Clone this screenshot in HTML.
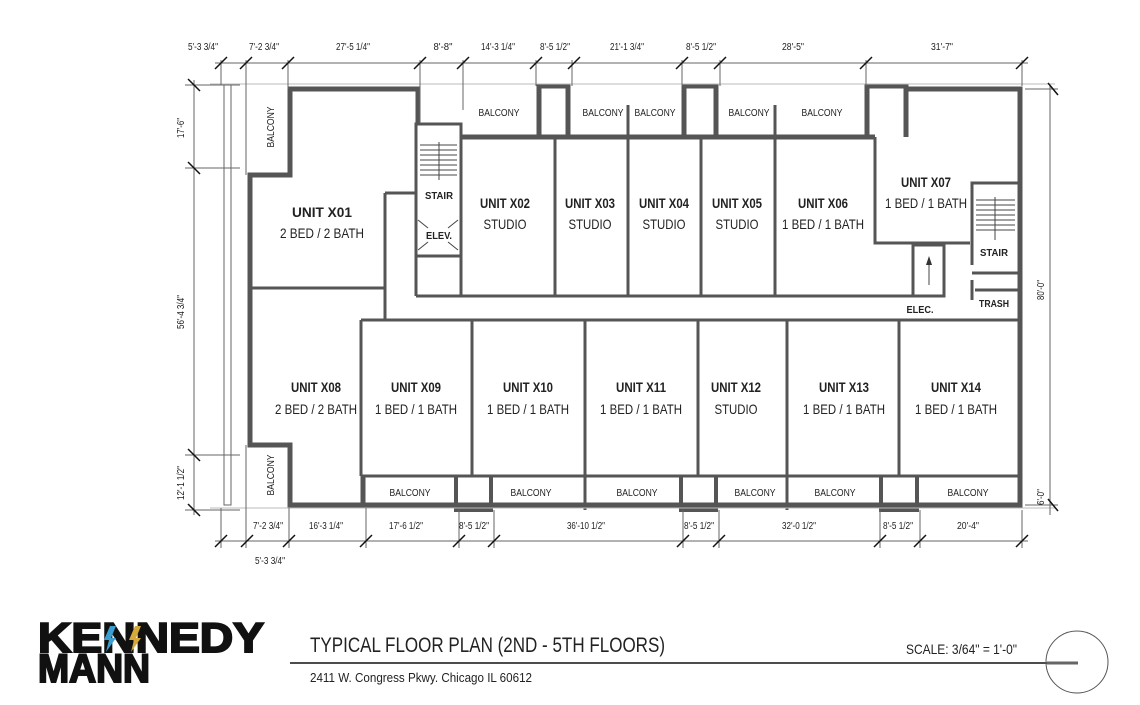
<!DOCTYPE html>
<html><head><meta charset="utf-8"><style>
html,body{margin:0;padding:0;background:#fff;width:1140px;height:705px;overflow:hidden}
svg{display:block}
text{font-family:"Liberation Sans Narrow","Liberation Sans",sans-serif;fill:#222}
.b{font-weight:bold;font-size:14px}
.n{font-size:14px}
.s{font-size:10px}
.d{font-size:10px}
</style></head><body>
<svg width="1140" height="705" viewBox="0 0 1140 705" xmlns="http://www.w3.org/2000/svg">
<g fill="none" stroke="#555" stroke-width="5" stroke-linejoin="miter">
<polyline points="418,123 418,89 290,89 290,175 250,175 250,445 290,445 290,505 363,505 363,475"/>
<polyline points="461,137 875,137"/>
<polyline points="539,137 539,86 568,86 568,137"/>
<polyline points="684,137 684,86 716,86 716,137"/>
<polyline points="867,137 867,86 906,86 906,137"/>
<polyline points="906,89 1020,89 1020,505 363,505"/>
</g>
<g fill="none" stroke="#555" stroke-width="3">
<polyline points="875,137 875,243 970,243"/>
<rect x="416" y="124" width="45" height="132"/>
<line x1="416" y1="256" x2="416" y2="296"/>
<line x1="416" y1="296" x2="913" y2="296"/>
<line x1="385" y1="193" x2="416" y2="193"/>
<line x1="385" y1="193" x2="385" y2="320"/>
<line x1="250" y1="288" x2="385" y2="288"/>
<line x1="461" y1="139" x2="461" y2="296"/>
<line x1="555" y1="139" x2="555" y2="296"/>
<line x1="628" y1="105" x2="628" y2="296"/>
<line x1="701" y1="139" x2="701" y2="296"/>
<line x1="775" y1="105" x2="775" y2="296"/>
<rect x="913" y="245" width="31" height="51"/>
<polyline points="1018,183 972,183 972,265"/>
<line x1="972" y1="273" x2="1018" y2="273"/>
<polyline points="972,280 972,300"/>
<line x1="975" y1="290" x2="1018" y2="290"/>
<line x1="361" y1="320" x2="1020" y2="320"/>
<line x1="361" y1="320" x2="361" y2="476"/>
<line x1="472" y1="320" x2="472" y2="476"/>
<line x1="585" y1="320" x2="585" y2="510"/>
<line x1="698" y1="320" x2="698" y2="476"/>
<line x1="787" y1="320" x2="787" y2="510"/>
<line x1="899" y1="320" x2="899" y2="476"/>
<line x1="361" y1="476" x2="1020" y2="476"/>
</g>
<g fill="none" stroke="#555" stroke-width="4">
<polyline points="456,477 456,510 491,510 491,477"/>
<polyline points="681,477 681,510 716,510 716,477"/>
<polyline points="881,477 881,510 917,510 917,477"/>
</g>
<g stroke="#444" stroke-width="1">
<line x1="420" y1="145" x2="457" y2="145"/><line x1="420" y1="150" x2="457" y2="150"/><line x1="420" y1="155" x2="457" y2="155"/><line x1="420" y1="160" x2="457" y2="160"/><line x1="420" y1="165" x2="457" y2="165"/><line x1="420" y1="170" x2="457" y2="170"/><line x1="420" y1="175" x2="457" y2="175"/>
<line x1="439" y1="142" x2="439" y2="180"/>
<line x1="418" y1="220" x2="428" y2="228"/><line x1="458" y1="220" x2="448" y2="228"/>
<line x1="418" y1="250" x2="428" y2="242"/><line x1="458" y1="250" x2="448" y2="242"/>
<line x1="976" y1="200" x2="1015" y2="200"/><line x1="976" y1="205" x2="1015" y2="205"/><line x1="976" y1="210" x2="1015" y2="210"/><line x1="976" y1="215" x2="1015" y2="215"/><line x1="976" y1="220" x2="1015" y2="220"/><line x1="976" y1="225" x2="1015" y2="225"/><line x1="976" y1="230" x2="1015" y2="230"/>
<line x1="995" y1="197" x2="995" y2="240"/>
<line x1="929" y1="285" x2="929" y2="260"/>
</g>
<polygon points="929,256 926,265 932,265" fill="#333"/>
<g stroke="#666" stroke-width="1" fill="none">
<rect x="224" y="85" width="7" height="420"/>
<line x1="210" y1="84" x2="1055" y2="84" stroke="#bbb"/>
<line x1="210" y1="508" x2="1055" y2="508" stroke="#bbb"/>
<line x1="246" y1="60" x2="246" y2="175"/>
<line x1="246" y1="445" x2="246" y2="548"/>
<line x1="288" y1="60" x2="288" y2="89"/>
<line x1="420" y1="60" x2="420" y2="123"/>
<line x1="463" y1="60" x2="463" y2="110"/>
<line x1="536" y1="60" x2="536" y2="86"/>
<line x1="572" y1="60" x2="572" y2="86"/>
<line x1="682" y1="60" x2="682" y2="86"/>
<line x1="720" y1="60" x2="720" y2="86"/>
<line x1="866" y1="60" x2="866" y2="86"/>
<line x1="1022" y1="60" x2="1022" y2="86"/>
<line x1="221" y1="60" x2="221" y2="85"/>
<line x1="215" y1="63" x2="1028" y2="63"/>
<line x1="215" y1="541" x2="1028" y2="541"/>
<line x1="221" y1="508" x2="221" y2="548"/>
<line x1="289" y1="508" x2="289" y2="548"/>
<line x1="366" y1="508" x2="366" y2="548"/>
<line x1="459" y1="510" x2="459" y2="548"/>
<line x1="494" y1="510" x2="494" y2="548"/>
<line x1="683" y1="510" x2="683" y2="548"/>
<line x1="719" y1="510" x2="719" y2="548"/>
<line x1="880" y1="510" x2="880" y2="548"/>
<line x1="920" y1="510" x2="920" y2="548"/>
<line x1="1022" y1="510" x2="1022" y2="548"/>
<line x1="194" y1="80" x2="194" y2="515"/>
<line x1="185" y1="85" x2="240" y2="85"/>
<line x1="185" y1="168" x2="240" y2="168"/>
<line x1="185" y1="455" x2="240" y2="455"/>
<line x1="185" y1="510" x2="240" y2="510"/>
<line x1="1050" y1="85" x2="1050" y2="515"/>
<line x1="1025" y1="505" x2="1058" y2="505"/>
<line x1="1025" y1="89" x2="1058" y2="89"/>
</g>
<g stroke="#111" stroke-width="1.5">
<path d="M215,69l12,-12M240,69l12,-12M282,69l12,-12M414,69l12,-12M457,69l12,-12M530,69l12,-12M568,69l12,-12M676,69l12,-12M714,69l12,-12M860,69l12,-12M1016,69l12,-12"/>
<path d="M215,547l12,-12M241,547l12,-12M283,547l12,-12M360,547l12,-12M453,547l12,-12M488,547l12,-12M677,547l12,-12M713,547l12,-12M874,547l12,-12M914,547l12,-12M1016,547l12,-12"/>
<path d="M188,79l12,12M188,162l12,12M188,449l12,12M188,504l12,12M1048,83l10,12M1048,499l10,12"/>
</g>
<g class="d" text-anchor="middle" lengthAdjust="spacingAndGlyphs">
<text x="203" y="50" textLength="30" lengthAdjust="spacingAndGlyphs">5'-3 3/4"</text>
<text x="264" y="50" textLength="30" lengthAdjust="spacingAndGlyphs">7'-2 3/4"</text>
<text x="353" y="50" textLength="34" lengthAdjust="spacingAndGlyphs">27'-5 1/4"</text>
<text x="443" y="50" textLength="19" lengthAdjust="spacingAndGlyphs">8'-8"</text>
<text x="498" y="50" textLength="34" lengthAdjust="spacingAndGlyphs">14'-3 1/4"</text>
<text x="555" y="50" textLength="30" lengthAdjust="spacingAndGlyphs">8'-5 1/2"</text>
<text x="627" y="50" textLength="34" lengthAdjust="spacingAndGlyphs">21'-1 3/4"</text>
<text x="701" y="50" textLength="30" lengthAdjust="spacingAndGlyphs">8'-5 1/2"</text>
<text x="793" y="50" textLength="22" lengthAdjust="spacingAndGlyphs">28'-5"</text>
<text x="942" y="50" textLength="22" lengthAdjust="spacingAndGlyphs">31'-7"</text>
<text x="268" y="529" textLength="30" lengthAdjust="spacingAndGlyphs">7'-2 3/4"</text>
<text x="326" y="529" textLength="34" lengthAdjust="spacingAndGlyphs">16'-3 1/4"</text>
<text x="406" y="529" textLength="34" lengthAdjust="spacingAndGlyphs">17'-6 1/2"</text>
<text x="474" y="529" textLength="30" lengthAdjust="spacingAndGlyphs">8'-5 1/2"</text>
<text x="586" y="529" textLength="38" lengthAdjust="spacingAndGlyphs">36'-10 1/2"</text>
<text x="699" y="529" textLength="30" lengthAdjust="spacingAndGlyphs">8'-5 1/2"</text>
<text x="799" y="529" textLength="34" lengthAdjust="spacingAndGlyphs">32'-0 1/2"</text>
<text x="898" y="529" textLength="30" lengthAdjust="spacingAndGlyphs">8'-5 1/2"</text>
<text x="968" y="529" textLength="22" lengthAdjust="spacingAndGlyphs">20'-4"</text>
<text x="270" y="564" textLength="30" lengthAdjust="spacingAndGlyphs">5'-3 3/4"</text>
<text transform="translate(184,128) rotate(-90)" textLength="20" lengthAdjust="spacingAndGlyphs">17'-6"</text>
<text transform="translate(184,312) rotate(-90)" textLength="34" lengthAdjust="spacingAndGlyphs">56'-4 3/4"</text>
<text transform="translate(184,483) rotate(-90)" textLength="34" lengthAdjust="spacingAndGlyphs">12'-1 1/2"</text>
<text transform="translate(1044,290) rotate(-90)" textLength="20" lengthAdjust="spacingAndGlyphs">80'-0"</text>
<text transform="translate(1044,497) rotate(-90)" textLength="16" lengthAdjust="spacingAndGlyphs">6'-0"</text>
</g>
<g text-anchor="middle">
<text class="b" x="322" y="217" textLength="60" lengthAdjust="spacingAndGlyphs">UNIT X01</text><text class="n" x="322" y="238" textLength="84" lengthAdjust="spacingAndGlyphs">2 BED / 2 BATH</text>
<text class="b" x="505" y="208" textLength="50" lengthAdjust="spacingAndGlyphs">UNIT X02</text><text class="n" x="505" y="229" textLength="43" lengthAdjust="spacingAndGlyphs">STUDIO</text>
<text class="b" x="590" y="208" textLength="50" lengthAdjust="spacingAndGlyphs">UNIT X03</text><text class="n" x="590" y="229" textLength="43" lengthAdjust="spacingAndGlyphs">STUDIO</text>
<text class="b" x="664" y="208" textLength="50" lengthAdjust="spacingAndGlyphs">UNIT X04</text><text class="n" x="664" y="229" textLength="43" lengthAdjust="spacingAndGlyphs">STUDIO</text>
<text class="b" x="737" y="208" textLength="50" lengthAdjust="spacingAndGlyphs">UNIT X05</text><text class="n" x="737" y="229" textLength="43" lengthAdjust="spacingAndGlyphs">STUDIO</text>
<text class="b" x="823" y="208" textLength="50" lengthAdjust="spacingAndGlyphs">UNIT X06</text><text class="n" x="823" y="229" textLength="82" lengthAdjust="spacingAndGlyphs">1 BED / 1 BATH</text>
<text class="b" x="926" y="187" textLength="50" lengthAdjust="spacingAndGlyphs">UNIT X07</text><text class="n" x="926" y="208" textLength="82" lengthAdjust="spacingAndGlyphs">1 BED / 1 BATH</text>
<text class="b" x="316" y="392" textLength="50" lengthAdjust="spacingAndGlyphs">UNIT X08</text><text class="n" x="316" y="414" textLength="82" lengthAdjust="spacingAndGlyphs">2 BED / 2 BATH</text>
<text class="b" x="416" y="392" textLength="50" lengthAdjust="spacingAndGlyphs">UNIT X09</text><text class="n" x="416" y="414" textLength="82" lengthAdjust="spacingAndGlyphs">1 BED / 1 BATH</text>
<text class="b" x="528" y="392" textLength="50" lengthAdjust="spacingAndGlyphs">UNIT X10</text><text class="n" x="528" y="414" textLength="82" lengthAdjust="spacingAndGlyphs">1 BED / 1 BATH</text>
<text class="b" x="641" y="392" textLength="50" lengthAdjust="spacingAndGlyphs">UNIT X11</text><text class="n" x="641" y="414" textLength="82" lengthAdjust="spacingAndGlyphs">1 BED / 1 BATH</text>
<text class="b" x="736" y="392" textLength="50" lengthAdjust="spacingAndGlyphs">UNIT X12</text><text class="n" x="736" y="414" textLength="43" lengthAdjust="spacingAndGlyphs">STUDIO</text>
<text class="b" x="844" y="392" textLength="50" lengthAdjust="spacingAndGlyphs">UNIT X13</text><text class="n" x="844" y="414" textLength="82" lengthAdjust="spacingAndGlyphs">1 BED / 1 BATH</text>
<text class="b" x="956" y="392" textLength="50" lengthAdjust="spacingAndGlyphs">UNIT X14</text><text class="n" x="956" y="414" textLength="82" lengthAdjust="spacingAndGlyphs">1 BED / 1 BATH</text>
</g>
<g class="s" text-anchor="middle">
<text x="499" y="116" textLength="41" lengthAdjust="spacingAndGlyphs">BALCONY</text>
<text x="603" y="116" textLength="41" lengthAdjust="spacingAndGlyphs">BALCONY</text>
<text x="655" y="116" textLength="41" lengthAdjust="spacingAndGlyphs">BALCONY</text>
<text x="749" y="116" textLength="41" lengthAdjust="spacingAndGlyphs">BALCONY</text>
<text x="822" y="116" textLength="41" lengthAdjust="spacingAndGlyphs">BALCONY</text>
<text x="410" y="496" textLength="41" lengthAdjust="spacingAndGlyphs">BALCONY</text>
<text x="531" y="496" textLength="41" lengthAdjust="spacingAndGlyphs">BALCONY</text>
<text x="637" y="496" textLength="41" lengthAdjust="spacingAndGlyphs">BALCONY</text>
<text x="755" y="496" textLength="41" lengthAdjust="spacingAndGlyphs">BALCONY</text>
<text x="835" y="496" textLength="41" lengthAdjust="spacingAndGlyphs">BALCONY</text>
<text x="968" y="496" textLength="41" lengthAdjust="spacingAndGlyphs">BALCONY</text>
<text transform="translate(274,127) rotate(-90)" textLength="41" lengthAdjust="spacingAndGlyphs">BALCONY</text>
<text transform="translate(274,475) rotate(-90)" textLength="41" lengthAdjust="spacingAndGlyphs">BALCONY</text>
<text x="439" y="199" font-weight="bold" textLength="28" lengthAdjust="spacingAndGlyphs">STAIR</text>
<text x="439" y="239" font-weight="bold" textLength="26" lengthAdjust="spacingAndGlyphs">ELEV.</text>
<text x="994" y="256" font-weight="bold" textLength="28" lengthAdjust="spacingAndGlyphs">STAIR</text>
<text x="994" y="307" font-weight="bold" textLength="30" lengthAdjust="spacingAndGlyphs">TRASH</text>
<text x="920" y="313" font-weight="bold" textLength="27" lengthAdjust="spacingAndGlyphs">ELEC.</text>
</g>
<text x="38" y="652" style="font-family:'Liberation Sans',sans-serif;font-weight:900;font-size:42px;fill:#111;stroke:#111;stroke-width:2" textLength="226" lengthAdjust="spacingAndGlyphs">KENNEDY</text>
<text x="38" y="682" style="font-family:'Liberation Sans',sans-serif;font-weight:900;font-size:40px;fill:#111;stroke:#111;stroke-width:2" textLength="112" lengthAdjust="spacingAndGlyphs">MANN</text>
<polygon points="110,626 116,626 111,638 116,638 106,652 109,640 104,640" fill="#3a9fd0"/>
<polygon points="135,626 141,626 136,638 141,638 131,652 134,640 129,640" fill="#d4a83a"/>
<text x="310" y="652" style="font-size:21px" textLength="355" lengthAdjust="spacingAndGlyphs">TYPICAL FLOOR PLAN (2ND - 5TH FLOORS)</text>
<text x="310" y="682" style="font-size:13px" textLength="222" lengthAdjust="spacingAndGlyphs">2411 W. Congress Pkwy.  Chicago IL 60612</text>
<text x="906" y="654" style="font-size:14px" textLength="111" lengthAdjust="spacingAndGlyphs">SCALE:  3/64" = 1'-0"</text>
<line x1="290" y1="663" x2="1078" y2="663" stroke="#111" stroke-width="1.5"/>
<line x1="1047" y1="663" x2="1078" y2="663" stroke="#666" stroke-width="3"/>
<circle cx="1077" cy="662" r="31" fill="none" stroke="#555" stroke-width="1"/>
</svg>
</body></html>
